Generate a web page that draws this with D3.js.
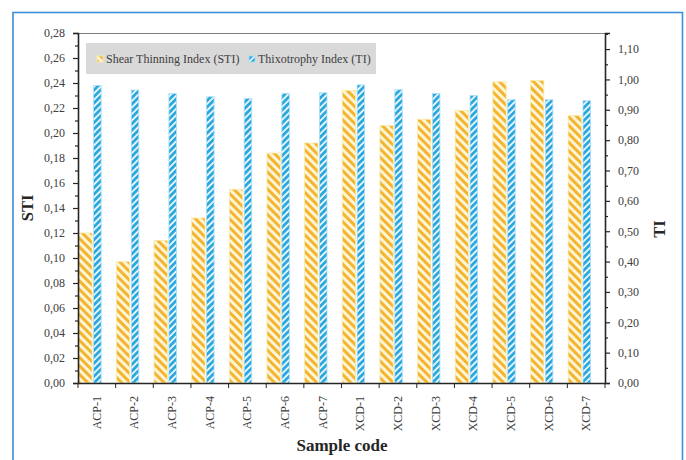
<!DOCTYPE html>
<html>
<head>
<meta charset="utf-8">
<script src="https://cdn.jsdelivr.net/npm/d3@7"></script>
<style>
  html, body { margin: 0; padding: 0; background: #fff; }
  svg { display: block; }
  svg text { font-family: "Liberation Serif", "Tinos", "DejaVu Serif", "Noto Serif", "Times New Roman", serif !important; }
</style>
</head>
<body>
<svg id="chart" width="686" height="460"></svg>
<script>
// Sample codes and measured indices
const categories = ["ACP-1","ACP-2","ACP-3","ACP-4","ACP-5","ACP-6","ACP-7",
                    "XCD-1","XCD-2","XCD-3","XCD-4","XCD-5","XCD-6","XCD-7"];
const stiValues = [0.120, 0.097, 0.114, 0.132, 0.155, 0.184, 0.192,
                   0.234, 0.206, 0.211, 0.218, 0.241, 0.242, 0.214];
const tiValues  = [0.980, 0.965, 0.953, 0.943, 0.937, 0.954, 0.956,
                   0.982, 0.966, 0.954, 0.947, 0.933, 0.933, 0.930];
const stiTicks = [0,0.02,0.04,0.06,0.08,0.10,0.12,0.14,0.16,0.18,0.20,0.22,0.24,0.26,0.28];
const tiTicks  = [0,0.10,0.20,0.30,0.40,0.50,0.60,0.70,0.80,0.90,1.00,1.10];
const seriesNames = ["Shear Thinning Index (STI)", "Thixotrophy Index (TI)"];

const serif = "'Liberation Serif', 'DejaVu Serif', serif";
const svg = d3.select("#chart");
const pLeft = 78, pRight = 605, pTop = 33, pBottom = 383;
const comma = v => v.toFixed(2).replace(".", ",");

// outer frame
svg.append("rect").attr("x", 13).attr("y", 12.5).attr("width", 669.5).attr("height", 460)
  .attr("fill", "none").attr("stroke", "#3d8fd6").attr("stroke-width", 1.6);

// hatch patterns
const defs = svg.append("defs");
function hatch(id, angle, size, lineW, bg, fg) {
  const p = defs.append("pattern").attr("id", id).attr("patternUnits", "userSpaceOnUse")
    .attr("width", size).attr("height", size).attr("patternTransform", `rotate(${angle})`);
  p.append("rect").attr("width", size).attr("height", size).attr("fill", bg);
  p.append("rect").attr("x", 0).attr("width", lineW).attr("height", size).attr("fill", fg);
}
hatch("hSTI", -45, 6, 3, "#fff5d6", "#f2b531");
hatch("hTI", 45, 4.6, 2.7, "#e6f6fd", "#2aa6df");

const x = d3.scaleBand().domain(categories).range([pLeft, pRight]).padding(0);
const yL = d3.scaleLinear().domain([0, 0.28]).range([pBottom, pTop]);
const yR = d3.scaleLinear().domain([0, 1.153]).range([pBottom, pTop]);
const bw = x.bandwidth();

// plot frame top line
svg.append("line").attr("x1", pLeft).attr("x2", pRight).attr("y1", pTop + 0.5).attr("y2", pTop + 0.5)
  .attr("stroke", "#7f7f7f").attr("stroke-width", 1);

// legend
svg.append("rect").attr("x", 86).attr("y", 43).attr("width", 290).attr("height", 31).attr("fill", "#d9d9d9");
const leg = [
  {name: seriesNames[0], fill: "url(#hSTI)", stroke: "#fde9a6", mx: 97, tx: 106},
  {name: seriesNames[1], fill: "url(#hTI)", stroke: "#a9def5", mx: 249, tx: 258}
];
leg.forEach(d => {
  svg.append("rect").attr("x", d.mx).attr("y", 56).attr("width", 6).attr("height", 6)
    .attr("fill", d.fill).attr("stroke", d.stroke).attr("stroke-width", 0.8);
  svg.append("text").attr("x", d.tx).attr("y", 63).attr("font-family", serif)
    .attr("font-size", 12).attr("fill", "#404040").text(d.name);
});

// bars
const g = svg.append("g");
g.selectAll(".sti").data(categories).join("rect").attr("class", "sti")
  .attr("x", d => x(d) + bw * 0.02).attr("width", bw * 0.355)
  .attr("y", (d, i) => yL(stiValues[i])).attr("height", (d, i) => pBottom - yL(stiValues[i]))
  .attr("fill", "url(#hSTI)").attr("stroke", "#fde9a6").attr("stroke-width", 0.8);
g.selectAll(".ti").data(categories).join("rect").attr("class", "ti")
  .attr("x", d => x(d) + bw * 0.415).attr("width", bw * 0.2)
  .attr("y", (d, i) => yR(tiValues[i])).attr("height", (d, i) => pBottom - yR(tiValues[i]))
  .attr("fill", "url(#hTI)").attr("stroke", "#a9def5").attr("stroke-width", 0.8);

// left axis
const axL = svg.append("g").attr("transform", `translate(${pLeft},0)`)
  .call(d3.axisLeft(yL).tickValues(stiTicks).tickFormat(comma).tickSize(5).tickPadding(8));
const axLminor = svg.append("g").attr("transform", `translate(${pLeft},0)`)
  .call(d3.axisLeft(yL).tickValues(d3.range(1, 28, 2).map(v => v / 100)).tickFormat("").tickSize(3));
// right axis
const axR = svg.append("g").attr("transform", `translate(${pRight},0)`)
  .call(d3.axisRight(yR).tickValues(tiTicks).tickFormat(comma).tickSize(5).tickPadding(8));
const axRminor = svg.append("g").attr("transform", `translate(${pRight},0)`)
  .call(d3.axisRight(yR).tickValues([0.05,0.15,0.25,0.35,0.45,0.55,0.65,0.75,0.85,0.95,1.05,1.15]).tickFormat("").tickSize(3));
// bottom axis
const axB = svg.append("g").attr("transform", `translate(0,${pBottom})`)
  .call(d3.axisBottom(x).tickSize(0).tickPadding(0));
axB.selectAll(".tick text").remove();
axB.selectAll(".sep").data(d3.range(0, categories.length + 1)).join("line").attr("class", "sep")
  .attr("x1", i => pLeft + i * bw).attr("x2", i => pLeft + i * bw).attr("y1", 0).attr("y2", 5)
  .attr("stroke", "#262626");

[axL, axLminor, axR, axRminor, axB].forEach(a => {
  a.attr("font-family", serif);
  a.select(".domain").attr("stroke", "#262626").attr("stroke-width", 1.6);
  a.selectAll(".tick line").attr("stroke", "#262626").attr("stroke-width", 1.2);
  a.selectAll(".tick text").attr("font-family", serif).attr("font-size", 12).attr("fill", "#404040");
});
axLminor.select(".domain").remove();
axRminor.select(".domain").remove();

// category labels
svg.selectAll(".cat").data(categories).join("text").attr("class", "cat")
  .attr("transform", d => `translate(${x(d) + bw / 2 + 4},396) rotate(-90)`)
  .attr("text-anchor", "end").attr("font-family", serif).attr("font-size", 12).attr("fill", "#404040").text(d => d);

// axis titles
svg.append("text").attr("transform", `translate(33,${(pTop + pBottom) / 2}) rotate(-90)`)
  .attr("text-anchor", "middle").attr("font-family", serif).attr("font-size", 16.5).attr("font-weight", "bold").attr("fill", "#262626").text("STI");
svg.append("text").attr("transform", `translate(665,229) rotate(-90)`)
  .attr("text-anchor", "middle").attr("font-family", serif).attr("font-size", 16.5).attr("font-weight", "bold").attr("fill", "#262626").text("TI");
svg.append("text").attr("x", 342).attr("y", 451).attr("text-anchor", "middle").attr("font-family", serif)
  .attr("font-size", 17).attr("font-weight", "bold").attr("fill", "#262626").text("Sample code");
</script>
</body>
</html>
